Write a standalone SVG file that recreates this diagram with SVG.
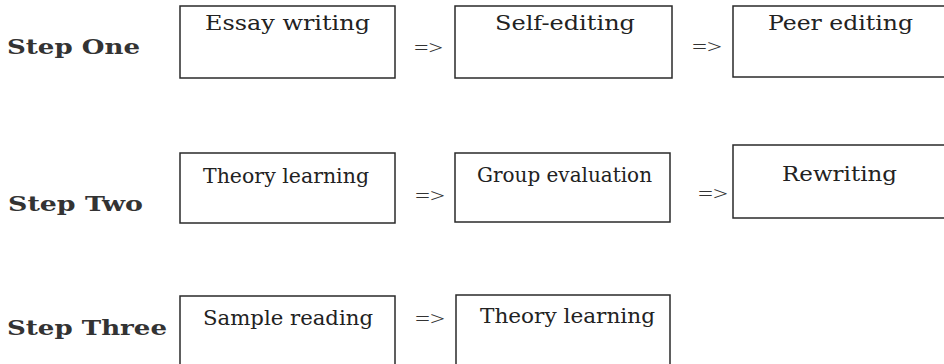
<svg xmlns="http://www.w3.org/2000/svg" width="944" height="364" viewBox="0 0 944 364">
<style>
.box{fill:#fff;stroke:#2a2a2a;stroke-width:1.5}
.t{font-family:"DejaVu Serif","Liberation Serif",serif;font-size:21px;fill:#222}
.step{font-family:"DejaVu Serif","Liberation Serif",serif;font-size:21px;font-weight:bold;fill:#333}
.arr{font-family:"Liberation Serif",serif;font-size:18px;fill:#333}
</style>
<rect width="944" height="364" fill="#fff"/>
<g id="labels">
<text class="step" x="7" y="54" textLength="133" lengthAdjust="spacingAndGlyphs">Step One</text>
<text class="step" x="8" y="211" textLength="135" lengthAdjust="spacingAndGlyphs">Step Two</text>
<text class="step" x="7" y="335" textLength="160" lengthAdjust="spacingAndGlyphs">Step Three</text>
</g>
<g id="n1"><rect class="box" x="180" y="6" width="215" height="72"/><text class="t" x="205" y="30" textLength="165" lengthAdjust="spacingAndGlyphs">Essay writing</text></g>
<g id="n2"><rect class="box" x="455" y="6" width="217" height="72"/><text class="t" x="495" y="30" textLength="140" lengthAdjust="spacingAndGlyphs">Self-editing</text></g>
<g id="n3"><rect class="box" x="733" y="6" width="215" height="71"/><text class="t" x="768" y="30" textLength="145" lengthAdjust="spacingAndGlyphs">Peer editing</text></g>
<g id="n4"><rect class="box" x="180" y="153" width="215" height="70"/><text class="t" x="203" y="183" font-size="19" textLength="166" lengthAdjust="spacingAndGlyphs">Theory learning</text></g>
<g id="n5"><rect class="box" x="455" y="153" width="215" height="69"/><text class="t" x="477" y="182" font-size="19" textLength="175" lengthAdjust="spacingAndGlyphs">Group evaluation</text></g>
<g id="n6"><rect class="box" x="733" y="145" width="215" height="73"/><text class="t" x="782" y="181" font-size="24" textLength="115" lengthAdjust="spacingAndGlyphs">Rewriting</text></g>
<g id="n7"><rect class="box" x="180" y="296" width="215" height="80"/><text class="t" x="203" y="325" textLength="170" lengthAdjust="spacingAndGlyphs">Sample reading</text></g>
<g id="n8"><rect class="box" x="456" y="295" width="214" height="80"/><text class="t" x="480" y="323" textLength="175" lengthAdjust="spacingAndGlyphs">Theory learning</text></g>
<g id="connectors">
<text class="arr" x="414" y="54" textLength="29" lengthAdjust="spacingAndGlyphs">=&gt;</text>
<text class="arr" x="692" y="53" textLength="30" lengthAdjust="spacingAndGlyphs">=&gt;</text>
<text class="arr" x="415" y="202" textLength="30" lengthAdjust="spacingAndGlyphs">=&gt;</text>
<text class="arr" x="698" y="200" textLength="30" lengthAdjust="spacingAndGlyphs">=&gt;</text>
<text class="arr" x="415" y="325" textLength="30" lengthAdjust="spacingAndGlyphs">=&gt;</text>
</g>
</svg>
